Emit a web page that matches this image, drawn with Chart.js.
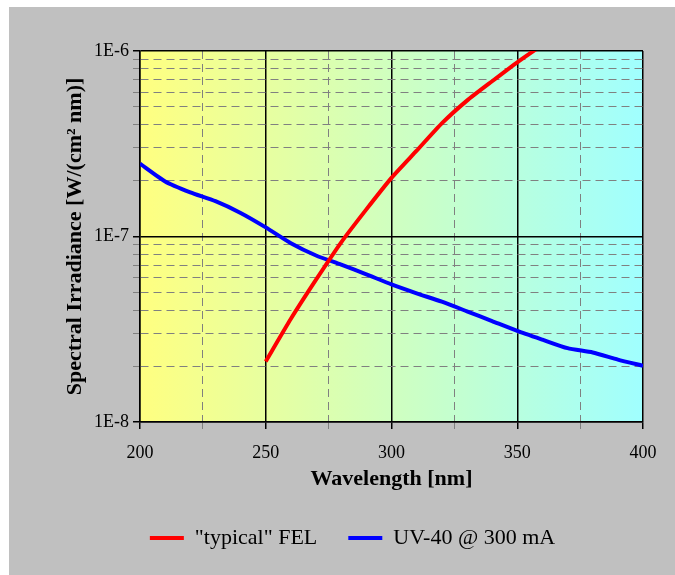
<!DOCTYPE html>
<html>
<head>
<meta charset="utf-8">
<script src="https://cdn.jsdelivr.net/npm/chart.js@4"></script>
<style>
  html, body { margin:0; padding:0; background:#fff; overflow:hidden; }
  #wrap { position:absolute; left:9px; top:7px; width:666px; height:568px; background:#c0c0c0; }
</style>
</head>
<body>
<div id="wrap"><canvas id="c"></canvas></div>
<script>
// ── data ────────────────────────────────────────────────────────
const FEL_NM   = [250, 260, 270, 280, 290, 300, 310, 320, 330, 340, 350, 360];
const FEL_IRR  = [2.12e-8, 3.6e-8, 5.85e-8, 9.3e-8, 1.4e-7, 2.07e-7, 2.9e-7, 4.07e-7, 5.4e-7, 6.87e-7, 8.69e-7, 1.08e-6];

const UV_NM    = [200, 210, 220, 230, 240, 250, 260, 270, 280, 290, 300, 310, 320, 330, 340, 350, 360, 370, 380, 390, 400];
const UV_IRR   = [2.47e-7, 1.98e-7, 1.73e-7, 1.55e-7, 1.34e-7, 1.12e-7, 9.2e-8, 7.9e-8, 7.05e-8, 6.25e-8, 5.52e-8,
                  4.94e-8, 4.45e-8, 3.95e-8, 3.5e-8, 3.1e-8, 2.78e-8, 2.5e-8, 2.37e-8, 2.17e-8, 2.01e-8];

const Y_TICKS  = [1e-8, 2e-8, 3e-8, 4e-8, 5e-8, 6e-8, 7e-8, 8e-8, 9e-8,
                  1e-7, 2e-7, 3e-7, 4e-7, 5e-7, 6e-7, 7e-7, 8e-7, 9e-7, 1e-6];
const X_MIN = 200, X_MAX = 400, X_STEP = 25, X_LABEL_STEP = 50;

// ── style ───────────────────────────────────────────────────────
const SERIF = "'Liberation Serif', 'Times New Roman', serif";
const MINOR = "#808080";
const DASH  = [8, 5];

const isDecade = v => Math.abs(Math.log10(v) - Math.round(Math.log10(v))) < 1e-6;
const isXMajor = v => Math.abs(v % X_LABEL_STEP) < 1e-6;

// yellow → cyan wash behind the plot area
const bgGradient = {
  id: "bgGradient",
  beforeDraw(chart) {
    const { ctx, chartArea: a } = chart;
    const g = ctx.createLinearGradient(a.left, 0, a.right, 0);
    g.addColorStop(0, "rgb(255,255,128)");
    g.addColorStop(1, "rgb(160,255,255)");
    ctx.save();
    ctx.fillStyle = g;
    ctx.fillRect(a.left, a.top, a.right - a.left, a.bottom - a.top);
    ctx.restore();
  },
};

new Chart(document.getElementById("c"), {
  type: "line",
  data: {
    datasets: [
      { label: "\"typical\" FEL", data: FEL_NM.map((x, i) => ({ x, y: FEL_IRR[i] })),
        borderColor: "#ff0000", backgroundColor: "#ff0000", borderWidth: 4, pointRadius: 0, tension: 0.2 },
      { label: "UV-40 @ 300 mA", data: UV_NM.map((x, i) => ({ x, y: UV_IRR[i] })),
        borderColor: "#0000ff", backgroundColor: "#0000ff", borderWidth: 4, pointRadius: 0, tension: 0.2 },
    ],
  },
  options: {
    responsive: true, maintainAspectRatio: false, animation: false, devicePixelRatio: 1,
    layout: { padding: { left: 53, right: 32, top: 44, bottom: 16 } },
    plugins: {
      tooltip: { enabled: false },
      legend: {
        position: "bottom",
        labels: { usePointStyle: true, pointStyle: "line", pointStyleWidth: 34, padding: 31,
                  color: "#000", font: { family: SERIF, size: 22 } },
      },
    },
    scales: {
      x: {
        type: "linear", min: X_MIN, max: X_MAX,
        afterFit: s => { s.height = 74; },
        ticks: { stepSize: X_STEP, autoSkip: false, maxRotation: 0, padding: 13, color: "#000",
                 font: { family: SERIF, size: 18 },
                 callback: v => isXMajor(v) ? String(v) : "" },
        grid: { color: c => c.tick && isXMajor(c.tick.value) ? "#000" : MINOR,
                lineWidth: c => c.tick && isXMajor(c.tick.value) ? 1.5 : 1,
                tickColor: c => c.tick && isXMajor(c.tick.value) ? "#000" : MINOR, tickLength: 7 },
        border: { color: "#000", width: 1.5, dash: c => c.tick && !isXMajor(c.tick.value) ? DASH : [] },
        title: { display: true, text: "Wavelength [nm]", color: "#000", padding: { top: 0, bottom: 3 },
                 font: { family: SERIF, size: 22, weight: "bold" } },
      },
      y: {
        type: "logarithmic", min: 1e-8, max: 1e-6,
        afterBuildTicks: s => { s.ticks = Y_TICKS.map(value => ({ value })); },
        afterFit: s => { s.width = 78; },
        ticks: { autoSkip: false, padding: 4, color: "#000", font: { family: SERIF, size: 18 },
                 callback: v => isDecade(v) ? "1E" + Math.round(Math.log10(v)) : "" },
        grid: { color: c => c.tick && isDecade(c.tick.value) ? "#000" : MINOR,
                lineWidth: c => c.tick && isDecade(c.tick.value) ? 1.5 : 1,
                tickColor: c => c.tick && isDecade(c.tick.value) ? "#000" : MINOR, tickLength: 7 },
        border: { color: "#000", width: 1.5, dash: c => c.tick && !isDecade(c.tick.value) ? DASH : [] },
        title: { display: true, text: "Spectral Irradiance [W/(cm² nm)]", color: "#000", padding: 0,
                 font: { family: SERIF, size: 22, weight: "bold" } },
      },
    },
  },
  plugins: [bgGradient],
});
</script>
</body>
</html>
